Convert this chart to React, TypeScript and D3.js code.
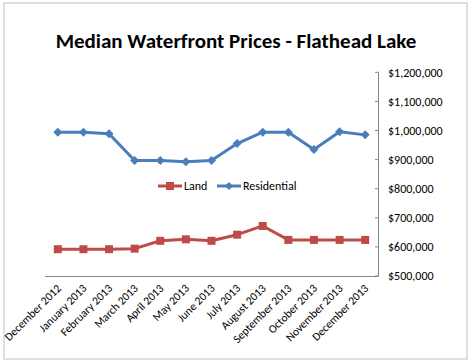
import React from "react";
import * as d3 from "d3";

const months = [
  "December 2012", "January 2013", "February 2013", "March 2013", "April 2013",
  "May 2013", "June 2013", "July 2013", "August 2013", "September 2013",
  "October 2013", "November 2013", "December 2013",
];
const land = [592000, 592000, 592000, 594000, 621000, 626000, 621000, 642000, 672000, 624000, 624000, 624000, 624000];
const residential = [994000, 994000, 989000, 897000, 897000, 893000, 897000, 955000, 994000, 994000, 935000, 996000, 985000];
const yTicks = [500000, 600000, 700000, 800000, 900000, 1000000, 1100000, 1200000];

const W = 470;
const H = 363;
const LAND = "#BE4B48";
const RES = "#4A7EBB";
const font = "Carlito, Calibri, Lato, sans-serif";

export default function App() {
  const x = d3.scaleBand().domain(months).range([45, 378]);
  const y = d3.scaleLinear().domain([500000, 1200000]).range([276, 72.3]);
  const cx = (m: string) => (x(m) as number) + x.bandwidth() / 2;
  const line = d3
    .line<number>()
    .x((_, i) => cx(months[i]))
    .y((d) => y(d));
  const money = (v: number) => "$" + d3.format(",")(v);

  return (
    <svg width={W} height={H} style={{ position: "absolute", left: 0, top: 0 }} fontFamily={font}>
      <rect x={0} y={0} width={W} height={H} fill="#fff" />
      <rect x={4} y={3} width={463} height={356} fill="#fff" stroke="#bfbfbf" strokeWidth={1} />
      <text x={236} y={48} textAnchor="middle" fontSize={21} fontWeight="bold" fill="#000">
        Median Waterfront Prices - Flathead Lake
      </text>

      {/* y axis on the right */}
      <line x1={378.5} x2={378.5} y1={y(1200000)} y2={y(500000)} stroke="#868686" />
      {yTicks.map((t) => (
        <g key={t}>
          <line x1={375} x2={378.5} y1={y(t)} y2={y(t)} stroke="#868686" />
          <text x={388} y={y(t)} dy="0.35em" fontSize={12} fill="#000">
            {money(t)}
          </text>
        </g>
      ))}

      {/* x axis */}
      <line x1={45} x2={378.5} y1={276.5} y2={276.5} stroke="#868686" />
      {months.map((m) => (
        <text
          key={m}
          transform={`translate(${cx(m) + 4},${289}) rotate(-45)`}
          textAnchor="end"
          fontSize={11.5}
          fill="#000"
        >
          {m}
        </text>
      ))}

      <path d={line(residential) ?? ""} fill="none" stroke={RES} strokeWidth={3} strokeLinejoin="round" />
      {residential.map((v, i) => (
        <path
          key={i}
          d="M0,-4.5L4.5,0L0,4.5L-4.5,0Z"
          transform={`translate(${cx(months[i])},${y(v)})`}
          fill={RES}
        />
      ))}
      <path d={line(land) ?? ""} fill="none" stroke={LAND} strokeWidth={3} strokeLinejoin="round" />
      {land.map((v, i) => (
        <rect key={i} x={cx(months[i]) - 4} y={y(v) - 4} width={8} height={8} fill={LAND} />
      ))}

      {/* legend */}
      <line x1={158} x2={182} y1={186} y2={186} stroke={LAND} strokeWidth={3} />
      <rect x={166} y={182} width={8} height={8} fill={LAND} />
      <text x={184} y={186} dy="0.35em" fontSize={12} fill="#000">Land</text>
      <line x1={217} x2={241} y1={186} y2={186} stroke={RES} strokeWidth={3} />
      <path d="M0,-4L4,0L0,4L-4,0Z" transform="translate(229,186)" fill={RES} />
      <text x={243} y={186} dy="0.35em" fontSize={12} fill="#000">Residential</text>
    </svg>
  );
}
